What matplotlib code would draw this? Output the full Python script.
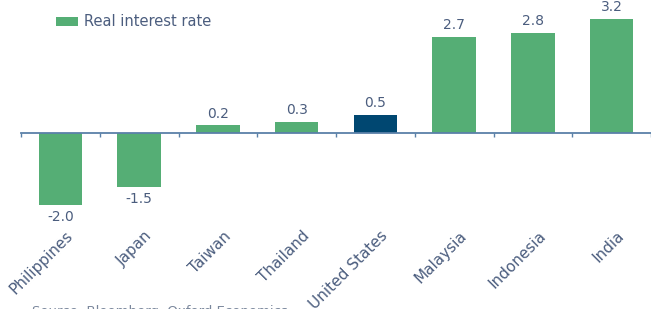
import matplotlib
matplotlib.use("Agg")
import matplotlib.pyplot as plt
import matplotlib.transforms as mtransforms
from matplotlib.patches import Patch
import numpy as np

countries = ["Philippines", "Japan", "Taiwan", "Thailand", "United States",
             "Malaysia", "Indonesia", "India"]
rates = [-2.04, -1.53, 0.2, 0.3, 0.5, 2.7, 2.8, 3.2]
highlight = "United States"
legend_label = "Real interest rate"
source_text = "Source: Bloomberg, Oxford Economics"

GREEN = "#55ae75"
NAVY = "#004771"
TEXT = "#4b5d7e"
AXIS = "#5a80a8"

plt.rcParams['font.family'] = ['DejaVu Sans']

W, H = 651, 309
fig = plt.figure(figsize=(W / 100, H / 100), dpi=100)
top_px, bot_px, zero_px, scale = 5, 215, 132.5, 35.5
ax = fig.add_axes([21 / W, (H - bot_px) / H, 630 / W, (bot_px - top_px) / H])
ax.set_ylim(-(bot_px - zero_px) / scale, (zero_px - top_px) / scale)
ax.set_xlim(-0.5, len(countries) - 0.5)

x = np.arange(len(countries))
colors = [NAVY if c == highlight else GREEN for c in countries]
bars = ax.bar(x, rates, width=0.55, color=colors, zorder=2)

for xi, v in zip(x, rates):
    off = 3.5 if v >= 0 else -4
    ax.annotate(f"{v:.1f}", (xi, v), xytext=(0, off), textcoords="offset points",
                ha="center", va="bottom" if v >= 0 else "top",
                fontsize=10, color=TEXT)

for s in ["top", "right", "left"]:
    ax.spines[s].set_visible(False)
ax.spines["bottom"].set_position(("data", 0))
ax.spines["bottom"].set_color(AXIS)
ax.spines["bottom"].set_linewidth(1.3)
ax.spines["bottom"].set_zorder(3)
ax.set_yticks([])

ax.set_xticks(x)
ax.set_xticklabels(countries, rotation=45, ha="right", va="top",
                   rotation_mode="anchor", fontsize=11, color=TEXT)
ax.tick_params(axis="x", which="major", length=0, pad=69)
ax.set_xticks(np.arange(len(countries) + 1) - 0.5, minor=True)
ax.tick_params(axis="x", which="minor", length=3, width=1, color=AXIS, direction="out")
offset = mtransforms.ScaledTranslation(5 / 100, 0, fig.dpi_scale_trans)
for lbl in ax.get_xticklabels():
    lbl.set_transform(lbl.get_transform() + offset)

handle = Patch(facecolor=GREEN, edgecolor="none")
fig.legend([handle], [legend_label], loc="center left",
           bbox_to_anchor=(56 / W, 1 - 22 / H), frameon=False,
           fontsize=10.5, labelcolor=TEXT, handlelength=1.5, handleheight=0.6,
           handletextpad=0.4, borderaxespad=0, borderpad=0)

fig.text(32 / W, 4 / H, source_text, ha="left", va="top", fontsize=9.5,
         color="#7a879c")

fig.savefig("out.png", dpi=100)
